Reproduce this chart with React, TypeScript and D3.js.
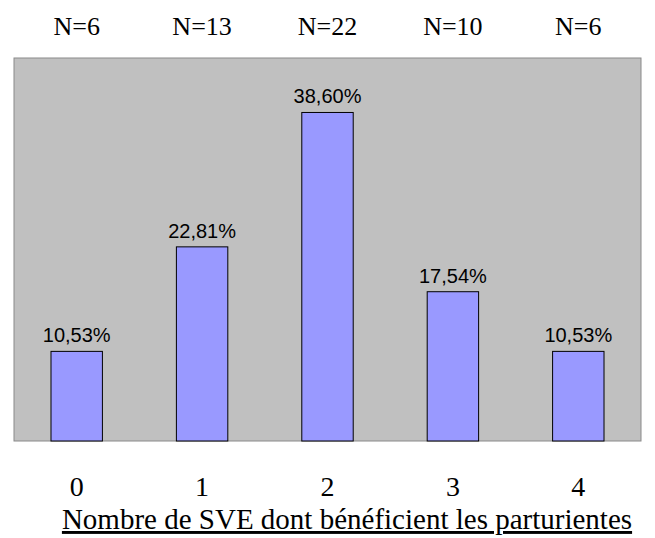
import * as d3 from 'd3';

const categories = ['0', '1', '2', '3', '4'];
const counts = [6, 13, 22, 10, 6];
const percents = [10.53, 22.81, 38.6, 17.54, 10.53];
const xTitle = 'Nombre de SVE dont bénéficient les parturientes';

const W = 655;
const H = 538;
const plot = { left: 14, top: 58, right: 641, bottom: 441 };

export default function App() {
  const x = d3
    .scaleBand<string>()
    .domain(categories)
    .range([plot.left, plot.right])
    .paddingInner(0.59)
    .paddingOuter(0.295);
  const y = d3.scaleLinear().domain([0, 45]).range([plot.bottom, plot.top]);
  const fmt = (v: number) => d3.format('.2f')(v).replace('.', ',') + '%';
  const cx = (c: string) => (x(c) ?? 0) + x.bandwidth() / 2;

  return (
    <svg
      width={W}
      height={H}
      style={{ position: 'absolute', left: 0, top: 0, display: 'block', background: '#fff' }}
    >
      {/* N counts above the plot */}
      {categories.map((c, i) => (
        <text
          key={`n-${c}`}
          x={cx(c)}
          y={35}
          textAnchor="middle"
          fontFamily="'Liberation Serif', 'Times New Roman', serif"
          fontSize={26}
          fill="#000"
        >
          {`N=${counts[i]}`}
        </text>
      ))}

      {/* plot background */}
      <rect
        x={plot.left}
        y={plot.top}
        width={plot.right - plot.left}
        height={plot.bottom - plot.top}
        fill="#c0c0c0"
        stroke="#8a8a8a"
        strokeWidth={1}
      />

      {/* bars */}
      {categories.map((c, i) => (
        <rect
          key={`b-${c}`}
          x={x(c)}
          y={y(percents[i])}
          width={x.bandwidth()}
          height={y(0) - y(percents[i])}
          fill="#9999ff"
          stroke="#000"
          strokeWidth={1}
        />
      ))}

      {/* value labels */}
      {categories.map((c, i) => (
        <text
          key={`v-${c}`}
          x={cx(c)}
          y={y(percents[i]) - 9}
          textAnchor="middle"
          fontFamily="'Liberation Sans', Arial, sans-serif"
          fontSize={20}
          fill="#000"
        >
          {fmt(percents[i])}
        </text>
      ))}

      {/* category labels */}
      {categories.map((c) => (
        <text
          key={`t-${c}`}
          x={cx(c)}
          y={496}
          textAnchor="middle"
          fontFamily="'Liberation Serif', 'Times New Roman', serif"
          fontSize={28}
          fill="#000"
        >
          {c}
        </text>
      ))}

      <text
        x={347}
        y={529}
        textAnchor="middle"
        fontFamily="'Liberation Serif', 'Times New Roman', serif"
        fontSize={29}
        fill="#000"
        textDecoration="underline"
      >
        {xTitle}
      </text>
    </svg>
  );
}
